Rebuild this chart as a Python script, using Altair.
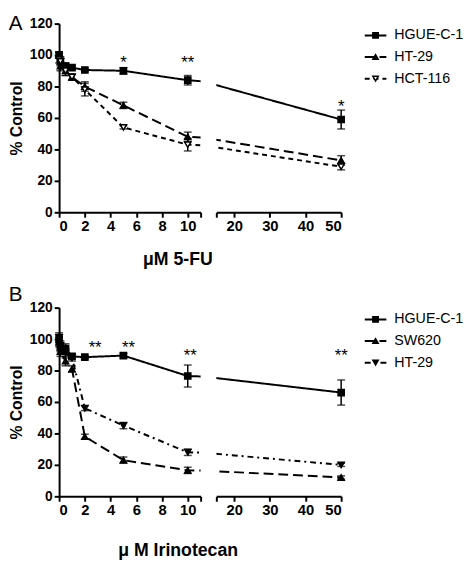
import altair as alt
import pandas as pd

FONT = "Liberation Sans"

doses = [0, 0.1, 0.5, 1, 2, 5, 10, 50]

# Panel A: 5-FU
a_series = ["HGUE-C-1", "HT-29", "HCT-116"]
a_hgue = [100, 96, 93, 92, 90.5, 90, 84, 59]
a_hgue_err = [2, 2, 2, 1.5, 1, 2, 3, 6]
a_ht29 = [100, 93, 90, 86, 80, 68, 48, 33]
a_ht29_err = [2, 3, 3, 2, 3, 2, 3, 3]
a_hct116 = [97, 96, 90, 86, 78, 54, 43, 29]
a_hct116_err = [2, 3, 3, 2, 4, 1, 4, 2]
a_star_x = [5, 10, 50]
a_star_y = [95, 95, 67]
a_star_t = ["*", "**", "*"]

# Panel B: Irinotecan
b_series = ["HGUE-C-1", "SW620", "HT-29"]
b_hgue = [100, 95, 94, 89, 88.5, 89.5, 76.5, 66]
b_hgue_err = [3, 3, 3, 1.5, 1, 1.5, 7, 8]
b_sw620 = [98, 92, 86, 81, 38, 23, 16.5, 12]
b_sw620_err = [3, 3, 3, 2, 1.5, 2, 2, 1]
b_ht29 = [101, 96, 91, 88, 56, 45, 28, 20]
b_ht29_err = [3, 3, 3, 2, 1.5, 2, 2, 1]
b_star_x = [2.8, 5.4, 10.2, 50]
b_star_y = [94, 94, 89, 89]
b_star_t = ["**", "**", "**", "**"]

a_shapes = ["square", "triangle-up", "triangle-down"]
a_fills = ["black", "black", "white"]
a_dashes = [[1, 0], [10, 5], [5, 4]]
b_shapes = ["square", "triangle-up", "triangle-down"]
b_fills = ["black", "black", "black"]
b_dashes = [[1, 0], [10, 5], [6, 4, 2, 4]]


def build(series, values, errs):
    rows = []
    for s, vals, es in zip(series, values, errs):
        for d, v, e in zip(doses, vals, es):
            rows.append({"series": s, "dose": d, "value": v, "lo": v - e, "hi": v + e})
    return pd.DataFrame(rows)


df_a = build(a_series, [a_hgue, a_ht29, a_hct116], [a_hgue_err, a_ht29_err, a_hct116_err])
df_b = build(b_series, [b_hgue, b_sw620, b_ht29], [b_hgue_err, b_sw620_err, b_ht29_err])
stars_a = pd.DataFrame({"dose": a_star_x, "value": a_star_y, "t": a_star_t})
stars_b = pd.DataFrame({"dose": b_star_x, "value": b_star_y, "t": b_star_t})


def panel(df, stars, names, shapes, fills, dashes, domain, width, left):
    if left:
        xaxis = alt.Axis(values=[0, 2, 4, 6, 8, 10, 11], title=None,
                         labelExpr="datum.value == 11 ? '' : datum.label")
        yaxis = alt.Axis(values=[0, 20, 40, 60, 80, 100, 120], title="% Control")
    else:
        xaxis = alt.Axis(values=[15, 20, 30, 40, 50], title=None,
                         labelExpr="datum.value == 15 ? '' : datum.label")
        yaxis = None
    xscale = alt.Scale(domain=domain, nice=False, zero=False)
    x = alt.X("dose:Q", scale=xscale, axis=xaxis)
    yscale = alt.Scale(domain=[0, 120], nice=False)
    y = alt.Y("value:Q", scale=yscale, axis=yaxis)
    dash = alt.StrokeDash("series:N", scale=alt.Scale(domain=names, range=dashes), legend=None)
    sub = df[(df["dose"] >= domain[0]) & (df["dose"] <= domain[1])]
    ssub = stars[(stars["dose"] >= domain[0]) & (stars["dose"] <= domain[1])]

    line = alt.Chart(df).mark_line(clip=True, color="black", strokeWidth=2).encode(
        x=x, y=y, strokeDash=dash, detail="series:N")
    rule = alt.Chart(sub).mark_rule(color="black", strokeWidth=1.5).encode(
        x=x, y=alt.Y("lo:Q", scale=yscale, axis=yaxis), y2="hi:Q")
    cap_lo = alt.Chart(sub).mark_tick(orient="horizontal", color="black", size=8, thickness=1.5).encode(
        x=x, y=alt.Y("lo:Q", scale=yscale, axis=yaxis))
    cap_hi = alt.Chart(sub).mark_tick(orient="horizontal", color="black", size=8, thickness=1.5).encode(
        x=x, y=alt.Y("hi:Q", scale=yscale, axis=yaxis))
    pts = alt.Chart(sub).mark_point(opacity=1, stroke="black", strokeWidth=1.5, size=40).encode(
        x=x, y=y,
        shape=alt.Shape("series:N", scale=alt.Scale(domain=names, range=shapes), legend=None),
        fill=alt.Fill("series:N", scale=alt.Scale(domain=names, range=fills), legend=None))
    txt = alt.Chart(ssub).mark_text(font=FONT, fontSize=17, color="black").encode(
        x=x, y=y, text="t:N")
    return alt.layer(line, rule, cap_lo, cap_hi, pts, txt).properties(width=width, height=192)


def legend(names, shapes, fills, dashes):
    ldf = pd.DataFrame({"series": names})
    ys = alt.Y("series:N", scale=alt.Scale(type="point", domain=names, range=[12, 56], padding=0), axis=None)
    dash = alt.StrokeDash("series:N", scale=alt.Scale(domain=names, range=dashes), legend=None)
    r = alt.Chart(ldf).mark_rule(color="black", strokeWidth=2).encode(
        x=alt.value(0), x2=alt.value(22), y=ys, strokeDash=dash)
    p = alt.Chart(ldf).mark_point(opacity=1, stroke="black", strokeWidth=1.5, size=30).encode(
        x=alt.value(11), y=ys,
        shape=alt.Shape("series:N", scale=alt.Scale(domain=names, range=shapes), legend=None),
        fill=alt.Fill("series:N", scale=alt.Scale(domain=names, range=fills), legend=None))
    t = alt.Chart(ldf).mark_text(font=FONT, fontSize=14.5, align="left", baseline="middle", color="black").encode(
        x=alt.value(30), y=ys, text="series:N")
    return alt.layer(r, p, t).properties(width=90, height=192)


def row(df, stars, names, shapes, fills, dashes, xtitle, letter, toff, loff):
    left = panel(df, stars, names, shapes, fills, dashes, [0, 11], 144, True)
    right = panel(df, stars, names, shapes, fills, dashes, [15, 50], 127, False)
    plots = alt.hconcat(left, right, spacing=14).properties(
        title=alt.TitleParams(xtitle, orient="bottom", anchor="middle", font=FONT,
                              fontSize=18, fontWeight="bold", offset=toff))
    leg = legend(names, shapes, fills, dashes)
    return alt.hconcat(plots, leg, spacing=16).properties(
        title=alt.TitleParams(letter, anchor="start", font=FONT, fontSize=21,
                              fontWeight="normal", offset=loff))


row_a = row(df_a, stars_a, a_series, a_shapes, a_fills, a_dashes, "μM 5-FU", "A", 18, -17)
row_b = row(df_b, stars_b, b_series, b_shapes, b_fills, b_dashes, "μ M Irinotecan", "B", 25, -4)

chart = alt.vconcat(row_a, row_b, spacing=15).properties(padding=0).resolve_scale(
    x="independent", y="independent", shape="independent", fill="independent", strokeDash="independent"
).configure_view(stroke=None).configure_axis(
    domainColor="black", domainWidth=2, tickColor="black", tickWidth=2, tickSize=5,
    labelFont=FONT, labelFontWeight="bold", labelColor="black",
    titleFont=FONT, titleFontSize=16, titleFontWeight="bold", titleColor="black",
    grid=False, labelPadding=2, titlePadding=5
).configure_axisX(labelFontSize=15).configure_axisY(labelFontSize=14)

chart.save("out.html", embed_options={"renderer": "svg", "actions": False})
